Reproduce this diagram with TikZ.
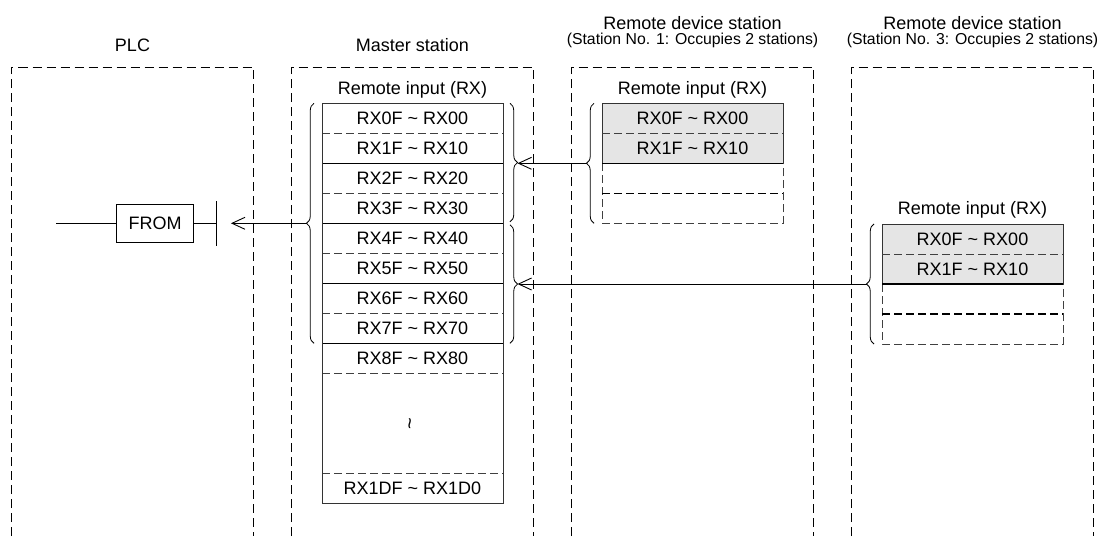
\documentclass[tikz,border=0pt]{standalone}
\usepackage{fontspec}
\setmainfont{Liberation Sans}
\usetikzlibrary{positioning,arrows.meta,calc,decorations.pathreplacing}
\tikzset{
  >=Stealth,
}

\begin{document}
\begin{tikzpicture}[x=1pt, y=-1pt, line width=0.9pt,
  font=\fontsize{18}{21.6}\selectfont,
  stationframe/.style={minimum width=242pt, minimum height=469pt, inner sep=0pt, outer sep=0pt},
  stbox/.style={dash pattern=on 9pt off 5pt},
  headtext/.style={anchor=base},
  subtext/.style={anchor=base, font=\fontsize{15.8}{19}\selectfont},
  reg/.style={minimum width=181pt, minimum height=30pt, inner sep=0pt, outer sep=0pt},
  regfill/.style={reg, fill=black!10},
  regside/.style={draw=black!80},
  dashline/.style={draw=black!75, dash pattern=on 8pt off 4pt},
  fixline/.style={draw=black, line width=1.2pt},
  thickdash/.style={draw=black, line width=1.5pt, dash pattern=on 8pt off 4pt},
  curly/.style={decorate, decoration={brace, amplitude=7.5pt}, line width=0.8pt},
  instr/.style={draw, minimum width=77pt, minimum height=38pt},
  arr/.style={-{Straight Barb[length=13pt, width=12pt]}}
]
  \useasboundingbox (0,0) rectangle (1098,536);

  % station frames
  \node[stationframe] (plc) at (132.5,301.5) {};
  \node[stationframe, right=38pt of plc] (master) {};
  \node[stationframe, right=38pt of master] (rem1) {};
  \node[stationframe, right=38pt of rem1] (rem3) {};
  \draw[stbox] (plc.south west) |- (plc.north east) -- (plc.south east);
  \draw[stbox] (master.south west) |- (master.north east) -- (master.south east);
  \draw[stbox] (rem1.south west) |- (rem1.north east) -- (rem1.south east);
  \draw[stbox] (rem3.south west) |- (rem3.north east) -- (rem3.south east);

  \node[headtext] (tplc) at ([yshift=16pt]plc.north) {PLC};
  \node[headtext] (tmaster) at ([yshift=16pt]master.north) {Master station};
  \node[headtext] (trem1) at ([yshift=37.5pt]rem1.north) {Remote device station};
  \node[subtext] (srem1) at ([yshift=23pt]rem1.north) {(Station No. 1: Occupies 2 stations)};
  \node[headtext] (trem3) at ([yshift=37.5pt]rem3.north) {Remote device station};
  \node[subtext] (srem3) at ([yshift=23pt]rem3.north) {(Station No. 3: Occupies 2 stations)};

  % master station remote input
  \node[reg, below=36.3pt of master.north] (m0) {RX0F \textasciitilde{} RX00};
  \node[reg, below=0pt of m0] (m1) {RX1F \textasciitilde{} RX10};
  \node[reg, below=0pt of m1] (m2) {RX2F \textasciitilde{} RX20};
  \node[reg, below=0pt of m2] (m3) {RX3F \textasciitilde{} RX30};
  \node[reg, below=0pt of m3] (m4) {RX4F \textasciitilde{} RX40};
  \node[reg, below=0pt of m4] (m5) {RX5F \textasciitilde{} RX50};
  \node[reg, below=0pt of m5] (m6) {RX6F \textasciitilde{} RX60};
  \node[reg, below=0pt of m6] (m7) {RX7F \textasciitilde{} RX70};
  \node[reg, below=0pt of m7] (m8) {RX8F \textasciitilde{} RX80};
  \node[reg, minimum height=100pt, below=0pt of m8] (mgap) {};
  \node[rotate=90, font=\fontsize{20}{20}\selectfont] (wave) at (mgap) {\textasciitilde};
  \node[reg, below=0pt of mgap] (m9) {RX1DF \textasciitilde{} RX1D0};
  \node[above=1.5pt of m0] (lmaster) {Remote input (RX)};

  \draw[dashline] (m0.south west) -- (m0.south east);
  \draw[fixline] (m1.south west) -- (m1.south east);
  \draw[dashline] (m2.south west) -- (m2.south east);
  \draw[fixline] (m3.south west) -- (m3.south east);
  \draw[dashline] (m4.south west) -- (m4.south east);
  \draw[fixline] (m5.south west) -- (m5.south east);
  \draw[dashline] (m6.south west) -- (m6.south east);
  \draw[fixline] (m7.south west) -- (m7.south east);
  \draw[dashline] (m8.south west) -- (m8.south east);
  \draw[dashline] (mgap.south west) -- (mgap.south east);
  \draw[regside] (m0.north west) rectangle (m9.south east);

  % station No. 1
  \node[regfill, below=36.3pt of rem1.north] (a0) {RX0F \textasciitilde{} RX00};
  \node[regfill, below=0pt of a0] (a1) {RX1F \textasciitilde{} RX10};
  \node[reg, below=0pt of a1] (a2) {};
  \node[reg, below=0pt of a2] (a3) {};
  \node[above=1.5pt of a0] (lrem1) {Remote input (RX)};
  \draw[regside] (a0.north west) rectangle (a1.south east);
  \draw[dashline] (a0.south west) -- (a0.south east);
  \draw[dashline] (a1.south west) -- (a3.south west) -- (a3.south east) -- (a1.south east);
  \draw[thickdash] (a2.south west) -- (a2.south east);
  \draw[fixline] (a1.south west) -- (a1.south east);

  % station No. 3
  \node[regfill, below=157pt of rem3.north] (b0) {RX0F \textasciitilde{} RX00};
  \node[regfill, below=0pt of b0] (b1) {RX1F \textasciitilde{} RX10};
  \node[reg, below=0pt of b1] (b2) {};
  \node[reg, below=0pt of b2] (b3) {};
  \node[above=1.5pt of b0] (lrem3) {Remote input (RX)};
  \draw[regside] (b0.north west) rectangle (b1.south east);
  \draw[dashline] (b0.south west) -- (b0.south east);
  \draw[dashline] (b1.south west) -- (b3.south west) -- (b3.south east) -- (b1.south east);
  \draw[thickdash] (b2.south west) -- (b2.south east);
  \draw[fixline] (b1.south west) -- (b1.south east);

  % braces
  \draw[curly] ([xshift=-8pt]m7.south west) -- ([xshift=-8pt]m0.north west)
    coordinate[midway, xshift=-7.5pt] (mleft);
  \draw[curly] ([xshift=7pt]m0.north east) -- ([xshift=7pt, yshift=1.5pt]m3.south east)
    coordinate[midway, xshift=7.5pt] (mright1);
  \draw[curly] ([xshift=7pt, yshift=-1.5pt]m4.north east) -- ([xshift=7pt]m7.south east)
    coordinate[midway, xshift=7.5pt] (mright2);
  \draw[curly] ([xshift=-8pt]a3.south west) -- ([xshift=-8pt]a0.north west)
    coordinate[midway, xshift=-7.5pt] (aleft);
  \draw[curly] ([xshift=-8pt]b3.south west) -- ([xshift=-8pt]b0.north west)
    coordinate[midway, xshift=-7.5pt] (bleft);

  % PLC side
  \node[instr] (from) at (155,223.3) {FROM};
  \coordinate[right=22pt of from] (bar);
  \coordinate[right=15pt of bar] (plcin);
  \coordinate[left=60pt of from] (rail);
  \draw (rail) -- (from) -- (bar);
  \draw ([yshift=22pt]bar) -- ([yshift=-23pt]bar);

  % transfers
  \draw[arr] (aleft) -- (aleft -| mright1);
  \draw[arr] (bleft) -- (bleft -| mright2);
  \draw[arr] (mleft) -- (mleft -| plcin);
\end{tikzpicture}
\end{document}
